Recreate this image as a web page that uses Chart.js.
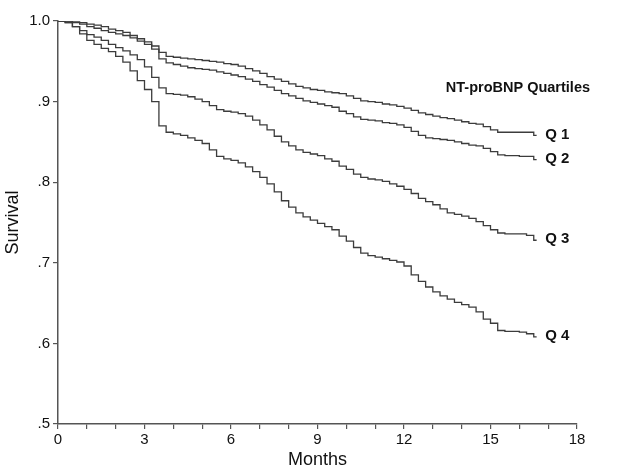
<!DOCTYPE html>
<html>
<head>
<meta charset="utf-8">
<script src="https://cdn.jsdelivr.net/npm/chart.js@4.4.1/dist/chart.umd.min.js"></script>
<style>
  html, body { margin: 0; padding: 0; background: #fff; }
  #grafico { display: block; }
</style>
</head>
<body>
<canvas id="grafico" width="628" height="471"></canvas>
<script>
  // =================== DADOS ====================
  const months = [
    0, 0.25, 0.5, 0.75, 1, 1.25, 1.5, 1.75, 2, 2.25, 2.5, 2.75,
    3, 3.25, 3.5, 3.75, 4, 4.25, 4.5, 4.75, 5, 5.25, 5.5, 5.75,
    6, 6.25, 6.5, 6.75, 7, 7.25, 7.5, 7.75, 8, 8.25, 8.5, 8.75,
    9, 9.25, 9.5, 9.75, 10, 10.25, 10.5, 10.75, 11, 11.25, 11.5, 11.75,
    12, 12.25, 12.5, 12.75, 13, 13.25, 13.5, 13.75, 14, 14.25, 14.5, 14.75,
    15, 15.25, 15.5, 15.75, 16, 16.25, 16.5, 16.6
  ];

  const q1 = [
    1.000, 1.000, 0.999, 0.998, 0.996, 0.995, 0.993, 0.990, 0.988, 0.986, 0.982, 0.978,
    0.974, 0.969, 0.961, 0.956, 0.955, 0.954, 0.953, 0.952, 0.951, 0.950, 0.949, 0.947,
    0.946, 0.944, 0.941, 0.938, 0.935, 0.931, 0.928, 0.925, 0.922, 0.919, 0.917, 0.915,
    0.914, 0.912, 0.911, 0.910, 0.907, 0.904, 0.901, 0.900, 0.899, 0.897, 0.896, 0.894,
    0.892, 0.889, 0.886, 0.884, 0.882, 0.880, 0.879, 0.877, 0.875, 0.873, 0.872, 0.869,
    0.865, 0.862, 0.862, 0.862, 0.862, 0.862, 0.858, 0.858
  ];

  const q2 = [
    1.000, 0.999, 0.998, 0.996, 0.993, 0.991, 0.988, 0.986, 0.984, 0.982, 0.979, 0.975,
    0.971, 0.965, 0.953, 0.948, 0.946, 0.944, 0.942, 0.941, 0.940, 0.939, 0.937, 0.935,
    0.933, 0.931, 0.928, 0.925, 0.921, 0.918, 0.914, 0.910, 0.907, 0.904, 0.901, 0.899,
    0.897, 0.895, 0.893, 0.888, 0.885, 0.881, 0.878, 0.877, 0.876, 0.874, 0.873, 0.871,
    0.868, 0.863, 0.858, 0.855, 0.854, 0.853, 0.852, 0.850, 0.848, 0.846, 0.845, 0.842,
    0.838, 0.834, 0.833, 0.833, 0.832, 0.832, 0.828, 0.828
  ];

  const q3 = [
    1.000, 0.998, 0.993, 0.988, 0.983, 0.980, 0.976, 0.971, 0.967, 0.963, 0.958, 0.952,
    0.943, 0.930, 0.917, 0.910, 0.909, 0.908, 0.906, 0.903, 0.900, 0.895, 0.890, 0.888,
    0.887, 0.885, 0.882, 0.877, 0.871, 0.865, 0.857, 0.850, 0.845, 0.840, 0.837, 0.835,
    0.833, 0.829, 0.826, 0.820, 0.816, 0.810, 0.806, 0.804, 0.803, 0.801, 0.798, 0.795,
    0.791, 0.786, 0.780, 0.776, 0.772, 0.767, 0.762, 0.760, 0.758, 0.755, 0.751, 0.746,
    0.741, 0.737, 0.736, 0.736, 0.736, 0.734, 0.728, 0.728
  ];

  const q4 = [
    1.000, 0.998, 0.993, 0.984, 0.976, 0.971, 0.966, 0.962, 0.956, 0.949, 0.938, 0.926,
    0.915, 0.900, 0.870, 0.862, 0.860, 0.858, 0.855, 0.852, 0.848, 0.840, 0.832, 0.829,
    0.827, 0.824, 0.819, 0.813, 0.806, 0.798, 0.788, 0.777, 0.769, 0.762, 0.757, 0.753,
    0.749, 0.745, 0.741, 0.733, 0.727, 0.719, 0.712, 0.709, 0.707, 0.705, 0.703, 0.701,
    0.696, 0.685, 0.677, 0.670, 0.664, 0.659, 0.655, 0.651, 0.648, 0.645, 0.639, 0.630,
    0.625, 0.616, 0.615, 0.615, 0.614, 0.612, 0.608, 0.608
  ];

  const seriesNames = ["Q 1", "Q 2", "Q 3", "Q 4"];
  const seriesValues = [q1, q2, q3, q4];
  const legendTitle = "NT-proBNP Quartiles";

  const lineColor = "#3c3c3c";
  const axisColor = "#555555";
  const fonte = "'Liberation Sans', Arial, sans-serif";

  const datasets = seriesValues.map((vals, i) => ({
    label: seriesNames[i],
    data: months.map((m, k) => ({ x: m, y: vals[k] })),
    borderColor: lineColor,
    borderWidth: 1.3,
    pointRadius: 0,
    stepped: true,
    fill: false
  }));

  // =================== RÓTULOS ====================
  const rotulos = {
    id: "rotulos",
    afterDatasetsDraw(chart) {
      const ctx = chart.ctx;
      const x = chart.scales.x;
      const y = chart.scales.y;
      ctx.save();
      ctx.fillStyle = "#111";
      ctx.textBaseline = "middle";
      ctx.textAlign = "left";
      ctx.font = "bold 15px " + fonte;
      seriesValues.forEach((vals, i) => {
        const ultimo = vals[vals.length - 1];
        ctx.fillText(seriesNames[i], x.getPixelForValue(16.9), y.getPixelForValue(ultimo) - 1);
      });
      ctx.font = "bold 14.5px " + fonte;
      ctx.fillText(legendTitle, x.getPixelForValue(13.45), y.getPixelForValue(0.917));
      ctx.restore();
    }
  };

  new Chart(document.getElementById("grafico"), {
    type: "line",
    data: { datasets },
    plugins: [rotulos],
    options: {
      responsive: false,
      animation: false,
      layout: { padding: { top: 21, right: 51, left: 0, bottom: 0 } },
      plugins: {
        legend: { display: false },
        tooltip: { enabled: false }
      },
      scales: {
        x: {
          type: "linear",
          min: 0,
          max: 18,
          afterFit: scale => { scale.height = 47; },
          border: { display: true, color: axisColor, width: 1.5 },
          grid: { drawOnChartArea: false, drawTicks: true, tickLength: 5, color: axisColor, lineWidth: 1.2 },
          ticks: {
            stepSize: 1,
            padding: 2,
            color: "#111",
            font: { family: fonte, size: 15 },
            maxRotation: 0,
            autoSkip: false,
            callback: v => (v % 3 === 0 ? String(v) : "")
          },
          title: {
            display: true,
            text: "Months",
            color: "#111",
            padding: { top: 0, bottom: 0 },
            font: { family: fonte, size: 18 }
          }
        },
        y: {
          type: "linear",
          min: 0.5,
          max: 1.0,
          afterFit: scale => { scale.width = 58; },
          border: { display: true, color: axisColor, width: 1.5 },
          grid: { drawOnChartArea: false, drawTicks: true, tickLength: 5, color: axisColor, lineWidth: 1.2 },
          ticks: {
            stepSize: 0.1,
            padding: 3,
            color: "#111",
            font: { family: fonte, size: 15 },
            callback: v => {
              const r = Math.round(v * 10);
              return r === 10 ? "1.0" : "." + r;
            }
          },
          title: {
            display: true,
            text: "Survival",
            color: "#111",
            padding: { top: 2, bottom: 0 },
            font: { family: fonte, size: 18 }
          }
        }
      }
    }
  });
</script>
</body>
</html>
